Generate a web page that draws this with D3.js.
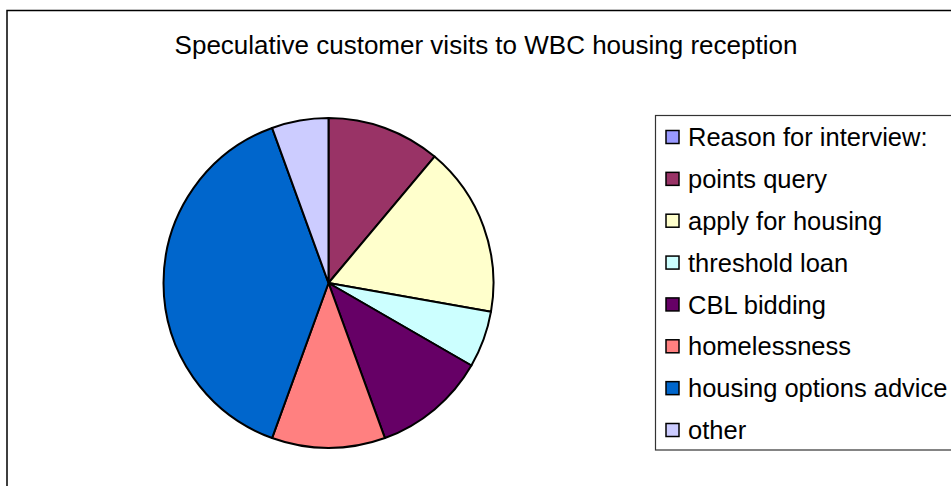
<!DOCTYPE html>
<html>
<head>
<meta charset="utf-8">
<script src="https://cdn.jsdelivr.net/npm/d3@7"></script>
<style>
  html, body { margin: 0; padding: 0; background: #fff; }
  svg { display: block; font-family: Arial, "Liberation Sans", sans-serif; }
</style>
</head>
<body>
<svg id="chart" width="951" height="486"></svg>
<script>
// Visit reasons, counts and slice colours
const categories = [
  "Reason for interview:",
  "points query",
  "apply for housing",
  "threshold loan",
  "CBL bidding",
  "homelessness",
  "housing options advice",
  "other"
];
const visits = [0, 2, 3, 1, 2, 2, 7, 1];
const colors = ["#9999FF", "#993366", "#FFFFCC", "#CCFFFF", "#660066", "#FF8080", "#0066CC", "#CCCCFF"];
const title = "Speculative customer visits to WBC housing reception";

const data = categories.map((c, i) => ({ name: c, value: visits[i], color: colors[i] }));

const svg = d3.select("#chart");

// outer chart frame (runs off the right and bottom edges)
svg.append("rect")
  .attr("x", 7).attr("y", 10.5)
  .attr("width", 1200).attr("height", 1000)
  .attr("fill", "#fff")
  .attr("stroke", "#000")
  .attr("stroke-width", 1.5);

// title
svg.append("text")
  .attr("x", 486).attr("y", 54)
  .attr("text-anchor", "middle")
  .attr("font-size", 26)
  .attr("fill", "#000")
  .text(title);

// pie
const cx = 328.5, cy = 283, radius = 165;
const pie = d3.pie().value(d => d.value).sort(null);
const arc = d3.arc().innerRadius(0).outerRadius(radius);

svg.append("g")
  .attr("transform", `translate(${cx},${cy})`)
  .selectAll("path")
  .data(pie(data).filter(d => d.data.value > 0))
  .join("path")
  .attr("d", arc)
  .attr("fill", d => d.data.color)
  .attr("stroke", "#000")
  .attr("stroke-width", 2)
  .attr("stroke-linejoin", "round");

// legend
const legend = svg.append("g");
legend.append("rect")
  .attr("x", 655.5).attr("y", 115.5)
  .attr("width", 400).attr("height", 334.5)
  .attr("fill", "#fff")
  .attr("stroke", "#333")
  .attr("stroke-width", 1.2);

const rowY = d3.scalePoint()
  .domain(categories)
  .range([137, 430]);

const rows = legend.selectAll("g.row")
  .data(data)
  .join("g")
  .attr("class", "row")
  .attr("transform", d => `translate(0,${rowY(d.name)})`);

rows.append("rect")
  .attr("x", 666).attr("y", -6.5)
  .attr("width", 13).attr("height", 13)
  .attr("fill", d => d.color)
  .attr("stroke", "#000")
  .attr("stroke-width", 1.5);

rows.append("text")
  .attr("x", 688).attr("y", 0)
  .attr("dy", "0.36em")
  .attr("font-size", 25.5)
  .attr("fill", "#000")
  .text(d => d.name);
</script>
</body>
</html>
